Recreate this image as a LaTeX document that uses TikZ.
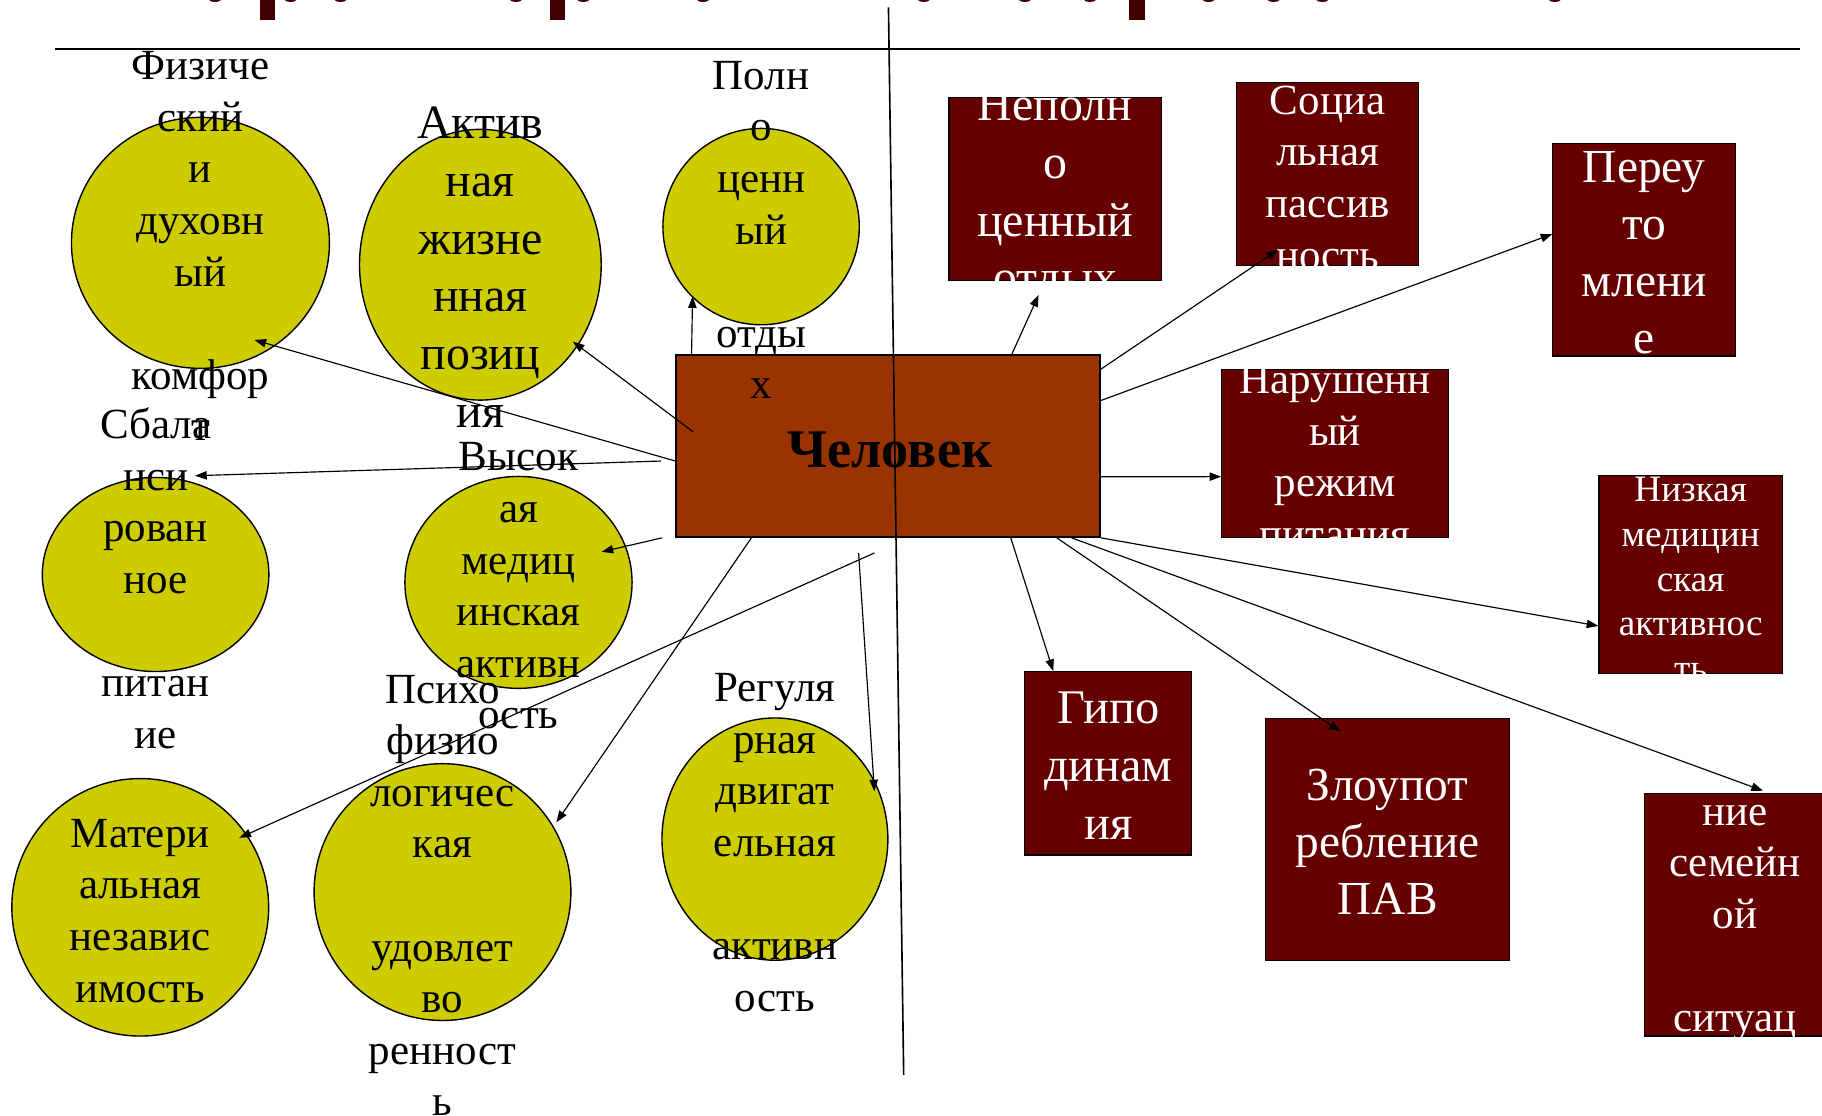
\documentclass[tikz,border=0pt]{standalone}
\usepackage{fontspec}
\setmainfont{Liberation Serif}
\usepackage{tikz}
\usetikzlibrary{shapes.geometric,arrows.meta,calc}

\definecolor{olivefill}{HTML}{CCCC00}
\definecolor{rustfill}{HTML}{993300}
\definecolor{maroonfill}{HTML}{660000}
\definecolor{titlered}{HTML}{420000}

\begin{document}
\begin{tikzpicture}[x=0.5pt,y=-0.5pt,
  oval/.style 2 args={ellipse, draw=black, line width=0.6pt, fill=olivefill,
    inner sep=0pt, minimum width=#1*0.5pt, minimum height=#2*0.5pt},
  block/.style 2 args={rectangle, draw=black, line width=0.5pt, fill=maroonfill,
    inner sep=0pt, minimum width=#1*0.5pt, minimum height=#2*0.5pt},
  txt/.style={align=center, inner sep=0pt, yshift=-4.8pt,
    font=\fontsize{18.5pt}{22.2pt}\selectfont,
    execute at begin node=\strut, execute at end node=\strut},
  bigtxt/.style={txt, font=\fontsize{20.6pt}{24.8pt}\selectfont},
  wtxt/.style={txt, text=white},
  link/.style={-{Triangle[length=5pt,width=3.6pt]}, line width=0.5pt},
]
  % page size (display pixels, y downwards)
  \useasboundingbox (0,0) rectangle (1568,960);

  % what is left of the title
  \foreach \bx in {224,473,972}
    \fill[titlered] (\bx,0) rectangle (\bx+13,17);
  \foreach \bx in {185,250,293,444,502,605,795,882,938,1040,1096,1138,1338}
    \fill[titlered] (\bx,0) ellipse [x radius=2.5pt, y radius=0.8pt];

  % rule under the title
  \draw[line width=1pt] (47,42) -- (1549,42);

  % the centre
  \node[rectangle, draw=black, line width=0.85pt, fill=rustfill,
    minimum width=182.3pt, minimum height=78.25pt] (man) at (764.3,383.75) {};

  % yellow ovals (healthy side)
  \node[oval={222}{216}]     (fiz)  at (172.5,209) {};
  \node[oval={208}{233}]     (akt)  at (413.4,227.8) {};
  \node[oval={169}{169}]     (otd)  at (655,195) {};
  \node[oval={195}{167}]     (pit)  at (133.9,494.4) {};
  \node[oval={195.5}{182.4}] (med)  at (446.2,501.2) {};
  \node[oval={221}{221.6}]   (mat)  at (120.7,780.8) {};
  \node[oval={221}{221}]     (psy)  at (380.8,767.7) {};
  \node[oval={194.4}{208.5}] (dvig) at (666.9,722.1) {};

  % dark boxes (risk side)
  \node[block={182.6}{157.6}] (notd) at (908,162.8) {};
  \node[block={156.3}{157.1}] (soc)  at (1142.45,149.75) {};
  \node[block={156.9}{183.1}] (ust)  at (1414.85,214.85) {};
  \node[block={194.9}{144.6}] (rez)  at (1148.85,390.1) {};
  \node[block={158}{170.7}]   (nmed) at (1455,494.35) {};
  \node[block={143.7}{157.8}] (gip)  at (953.75,656.9) {};
  \node[block={209.6}{208.4}] (pav)  at (1194.2,722.2) {};
  \node[block={156}{208.6}]   (sem)  at (1493,787.3) {};

  % texts, set over the shapes
  \node[font=\bfseries\fontsize{23.4pt}{28pt}\selectfont, inner sep=0pt]
    (man-t) at ($(man)+(1.5,3.2)$) {Человек};
  \node[txt]    (fiz-t)  at (fiz)  {Физиче\\ский\\и\\духовн\\ый\\\\комфор\\т};
  \node[bigtxt] (akt-t)  at (akt)  {Актив\\ная\\жизне\\нная\\позиц\\ия};
  \node[txt]    (otd-t)  at (otd)  {Полн\\о\\ценн\\ый\\\\отды\\х};
  \node[txt]    (pit-t)  at (pit)  {Сбала\\нси\\рован\\ное\\\\питан\\ие};
  \node[txt]    (med-t)  at (med)  {Высок\\ая\\медиц\\инская\\активн\\ость};
  \node[txt]    (mat-t)  at (mat)  {Матери\\альная\\независ\\имость};
  \node[txt]    (psy-t)  at (psy)  {Психо\\физио\\логичес\\кая\\\\удовлет\\во\\ренност\\ь};
  \node[txt]    (dvig-t) at (dvig) {Регуля\\рная\\двигат\\ельная\\\\активн\\ость};

  \node[wtxt, font=\fontsize{20.6pt}{24.8pt}\selectfont] (notd-t) at (notd) {Неполн\\о\\ценный\\отдых};
  \node[wtxt]   (soc-t)  at (soc)  {Социа\\льная\\пассив\\ность};
  \node[wtxt, font=\fontsize{20.4pt}{24.5pt}\selectfont] (ust-t) at (ust) {Переу\\то\\млени\\е};
  \node[wtxt]   (rez-t)  at (rez)  {Нарушенн\\ый\\режим\\питания};
  \node[wtxt, font=\fontsize{16pt}{19.25pt}\selectfont] (nmed-t) at (nmed) {Низкая\\медицин\\ская\\активнос\\ть};
  \node[wtxt, font=\fontsize{20.8pt}{25pt}\selectfont] (gip-t) at (gip) {Гипо\\динам\\ия};
  \node[wtxt, font=\fontsize{20.4pt}{24.5pt}\selectfont] (pav-t) at (pav) {Злоупот\\ребление\\ПАВ};
  \node[wtxt]   (sem-t)  at (sem)  {ние\\семейн\\ой\\\\ситуац};

  % arrows out of the centre
  \draw[link] ($(man.west)+(0,13)$)          -- ($(fiz)+(46.5,83.6)$);
  \draw[link] ($(man)+(-168,-12.25)$)        -- ($(akt)+(79.6,66.2)$);
  \draw[link] ($(man.north west)+(14,0)$)    -- ($(otd)+(-59,60)$);
  \draw[link] ($(man.west)+(-12.2,13)$)      -- ($(pit)+(34,-85)$);
  \draw[link] ($(man.south west)+(-11.3,0)$) -- ($(med)+(71.5,-26.3)$);
  \draw[link] ($(man.south)+(-11.8,13)$)     -- ($(mat)+(85.3,-59.8)$);
  \draw[link] ($(man.south west)+(65.5,0)$)  -- ($(psy)+(98,-60)$);
  \draw[link] ($(man.south)+(-25.4,13)$)     -- ($(dvig)+(85.6,-41.1)$);

  \draw[link] ($(man.north east)+(-76.6,0)$) -- ($(notd)+(-14.2,91.1)$);
  \draw[link] ($(man.north east)+(0,13)$)    -- ($(soc)+(-42.75,65.25)$);
  \draw[link] ($(man.north east)+(0,40)$)    -- ($(ust.west)+(0,-13.45)$);
  \draw[link] ($(man.east)+(0,26.5)$)        -- ($(rez.west)+(0,20.1)$);
  \draw[link] (man.south east)               -- ($(nmed.west)+(0,44.3)$);
  \draw[link] ($(man.south east)+(-77.6,0)$) -- ($(gip.north west)+(25,0)$);
  \draw[link] ($(man.south east)+(-38,0)$)   -- ($(pav.north west)+(64.6,12)$);
  \draw[link] ($(man.south east)+(-25.3,0)$) -- ($(sem.north west)+(102.7,-2)$);

  % thin divider through the middle
  \draw[line width=0.7pt] (764.6,6.3) -- (777.7,925);
\end{tikzpicture}
\end{document}
